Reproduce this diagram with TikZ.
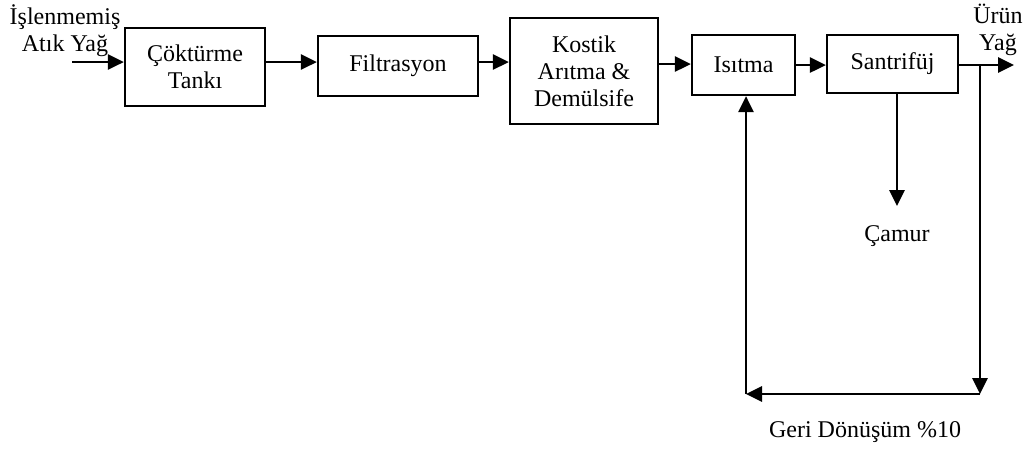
\documentclass[tikz,border=0pt]{standalone}
\usepackage{fontspec}
\setmainfont{Liberation Serif}
\usepackage{tikz}
\usetikzlibrary{arrows.meta, positioning}

\begin{document}
\begin{tikzpicture}[x=0.5pt, y=-0.5pt,
    font=\fontsize{12}{13.5}\selectfont,
    box/.style={draw, line width=1.1pt, inner sep=0pt, align=center},
    flow/.style={line width=1.4pt, -{Triangle[length=8pt, width=7.5pt]}},
    lbl/.style={align=center, inner sep=0pt}]
    \useasboundingbox (0,0) rectangle (1026,452);
    % process boxes
    \node[box, minimum width=70pt, minimum height=39pt] (tank) at (195,67) {Çöktürme\\Tankı};
    \node[box, minimum width=80pt, minimum height=30pt] (filtre) at (398,66) {Filtrasyon};
    \node[box, minimum width=74pt, minimum height=53pt] (kostik) at (584,71) {Kostik\\Arıtma \&\\Demülsife};
    \node[box, minimum width=51.5pt, minimum height=30pt] (isitma) at (743.5,65) {Isıtma};
    \node[box, minimum width=65.5pt, minimum height=29pt] (santri) at (892.5,64) {Santrifüj};
    % labels
    \node[lbl] (giris) at (65,31) {İşlenmemiş\\Atık Yağ};
    \node[lbl] (urun) at (998,30) {Ürün\\Yağ};
    \node[lbl] (camur) at (897,236) {Çamur};
    \node[lbl] (geri) at (865,432) {Geri Dönüşüm \%10};
    % helper points
    \coordinate (in) at (72,62);
    \coordinate (out) at (1014,65);
    \coordinate (ayir) at (980,65);
    \coordinate (altsag) at (980,394);
    \coordinate (altsol) at (746,394);
    \coordinate (camurucu) at (897,206);
    % main line
    \draw[flow] (in) -- (in -| tank.west);
    \draw[flow] (tank.east |- 0,62) -- (filtre.west |- 0,62);
    \draw[flow] (filtre.east |- 0,62) -- (kostik.west |- 0,62);
    \draw[flow] (kostik.east |- 0,64) -- (isitma.west |- 0,64);
    \draw[flow] (isitma.east |- 0,65) -- (santri.west |- 0,65);
    \draw[flow] (santri.east |- out) -- (out);
    \draw[flow] (santri.south -| camurucu) -- (camurucu);
    % recycle
    \draw[flow] (ayir) -- (altsag);
    \draw[flow] (altsag) -- (altsol);
    \draw[flow] (altsol) -- (altsol |- isitma.south);
\end{tikzpicture}
\end{document}
